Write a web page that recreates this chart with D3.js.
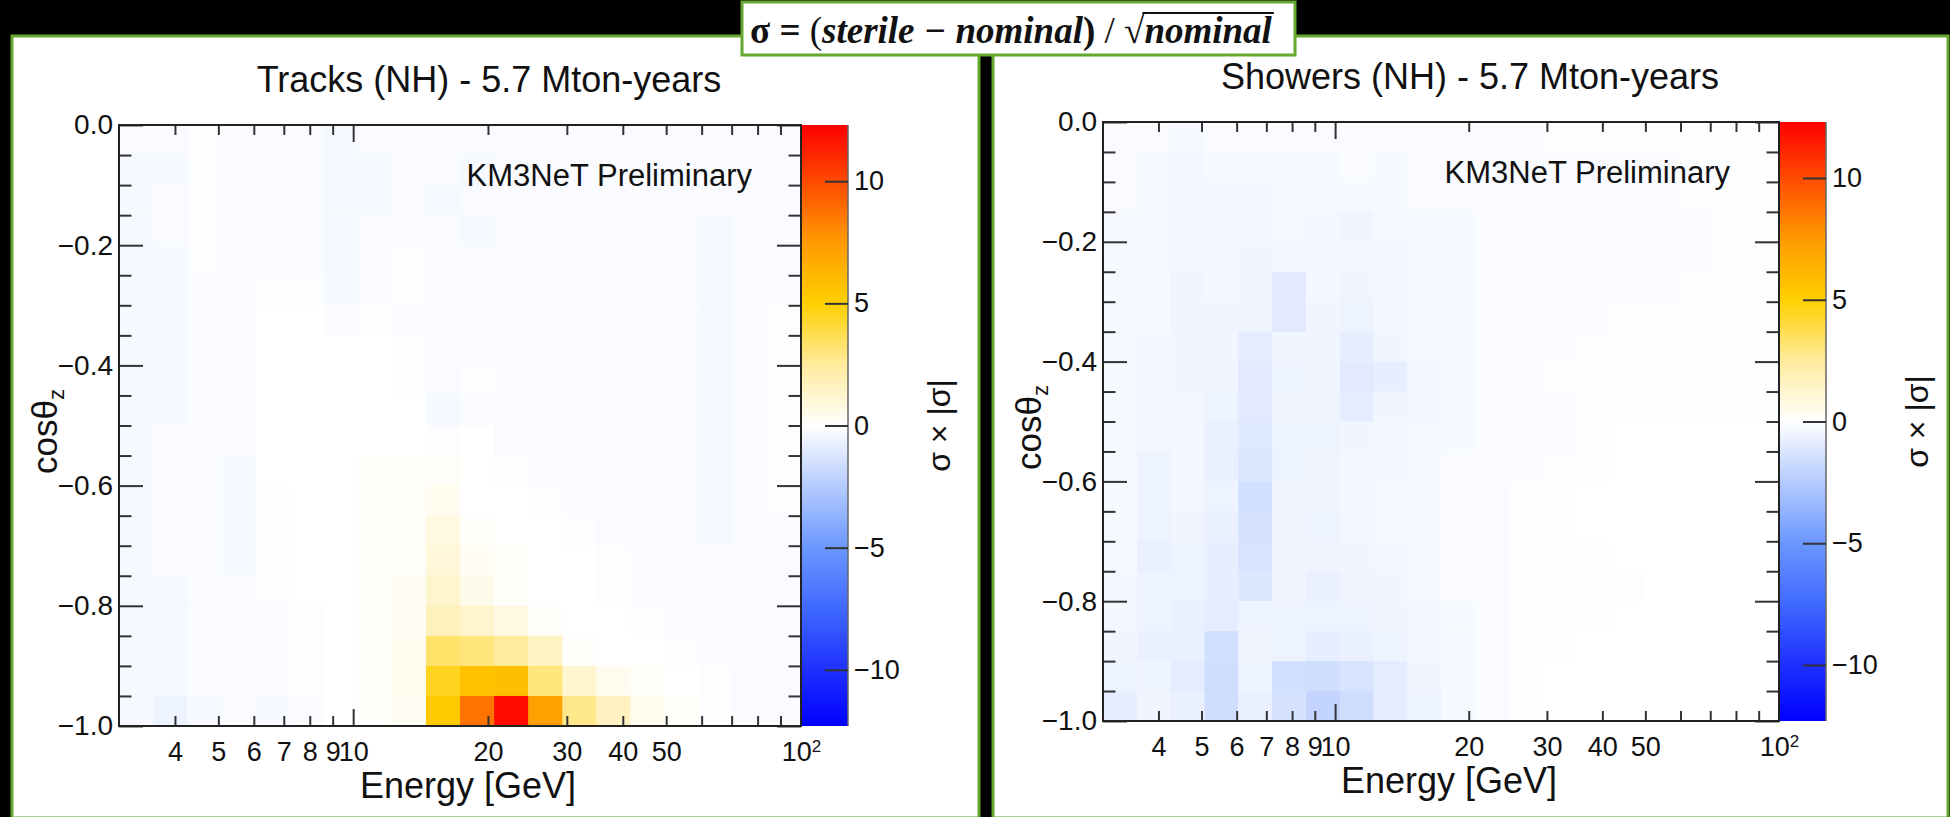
<!DOCTYPE html>
<html>
<head>
<meta charset="utf-8">
<script src="https://cdn.jsdelivr.net/npm/d3@7"></script>
<style>
  html, body { margin: 0; padding: 0; background: #000; }
  svg { display: block; }
  text { font-family: "Liberation Sans", Arial, Helvetica, sans-serif; }
</style>
</head>
<body>
<div id="chart"></div>
<script>
// energy bin edges [GeV], 20 log bins from 3 to 100
var energyEdges = [3.00, 3.58, 4.26, 5.08, 6.05, 7.21, 8.60, 10.24, 12.20, 14.54, 17.32,
                   20.64, 24.59, 29.31, 34.92, 41.62, 49.60, 59.10, 70.43, 83.93, 100];
// cos(theta_z) bin edges
var cosEdges = [-1.00, -0.95, -0.90, -0.85, -0.80, -0.75, -0.70, -0.65, -0.60, -0.55, -0.50,
                -0.45, -0.40, -0.35, -0.30, -0.25, -0.20, -0.15, -0.10, -0.05, 0.00];

var energyMinorTicks = [4, 5, 6, 7, 8, 9, 20, 30, 40, 50, 60, 70, 80, 90];
var energyMajorTicks = [10, 100];
var energyTickLabels = [4, 5, 6, 7, 8, 9, 10, 20, 30, 40, 50, 100];
var cosMajorTicks = [0, -0.2, -0.4, -0.6, -0.8, -1.0];
var cosMinorTicks = [-0.05, -0.1, -0.15, -0.25, -0.3, -0.35, -0.45, -0.5, -0.55,
                     -0.65, -0.7, -0.75, -0.85, -0.9, -0.95];
var colorTicks = [-10, -5, 0, 5, 10];
var colorStops = [-12.3, -10, -7.5, -5, -2.5, 0, 2.5, 5, 7.5, 10, 12.3];
var colorRange = ["#0000ff", "#1e30ff", "#3f69ff", "#6b97ff", "#b4cbff", "#ffffff",
                  "#ffeb9c", "#ffd000", "#ff9a00", "#ff4a00", "#ff0000"];

// sigma x |sigma|, rows from cos = 0 (top) down to cos = -1 (bottom), columns low -> high energy
var tracksSigma = [
  [-0.2,-0.2,-0.1,-0.2,-0.2,-0.2,-0.3,-0.2,-0.2,-0.2,-0.2,-0.2,-0.2,-0.2,-0.2,-0.2,-0.2,-0.2,-0.2,-0.2],
  [-0.3,-0.3,-0.1,-0.2,-0.2,-0.2,-0.3,-0.3,-0.2,-0.2,-0.3,-0.2,-0.2,-0.2,-0.2,-0.2,-0.2,-0.2,-0.2,-0.2],
  [-0.3,-0.2,-0.1,-0.2,-0.2,-0.2,-0.3,-0.3,-0.2,-0.3,-0.2,-0.2,-0.2,-0.2,-0.2,-0.2,-0.2,-0.2,-0.2,-0.2],
  [-0.3,-0.2,-0.1,-0.2,-0.2,-0.2,-0.3,-0.2,-0.2,-0.2,-0.3,-0.2,-0.2,-0.2,-0.2,-0.2,-0.2,-0.3,-0.2,-0.2],
  [-0.3,-0.3,-0.1,-0.2,-0.2,-0.2,-0.3,-0.2,-0.1,-0.2,-0.2,-0.2,-0.2,-0.2,-0.2,-0.2,-0.2,-0.3,-0.2,-0.2],
  [-0.3,-0.3,-0.2,-0.2,-0.1,-0.1,-0.3,-0.2,-0.1,-0.2,-0.2,-0.2,-0.2,-0.2,-0.2,-0.2,-0.2,-0.3,-0.2,-0.2],
  [-0.3,-0.3,-0.2,-0.2, 0.0, 0.0,-0.2,-0.1,-0.2,-0.2,-0.2,-0.2,-0.2,-0.2,-0.2,-0.2,-0.2,-0.3,-0.2,-0.1],
  [-0.3,-0.3,-0.2,-0.2, 0.0, 0.0, 0.0, 0.0,-0.1,-0.2,-0.2,-0.2,-0.2,-0.2,-0.2,-0.2,-0.2,-0.3,-0.2,-0.1],
  [-0.3,-0.3,-0.2,-0.2, 0.0, 0.0, 0.0, 0.0,-0.1,-0.2,-0.1,-0.2,-0.2,-0.2,-0.2,-0.2,-0.2,-0.3,-0.2,-0.1],
  [-0.3,-0.3,-0.2,-0.2, 0.0, 0.0, 0.0, 0.0, 0.0,-0.3,-0.2,-0.2,-0.2,-0.2,-0.2,-0.2,-0.2,-0.3,-0.2,-0.1],
  [-0.3,-0.2,-0.2,-0.2, 0.0, 0.0, 0.0, 0.0, 0.0,-0.1, 0.0,-0.2,-0.2,-0.2,-0.2,-0.2,-0.2,-0.3,-0.2,-0.1],
  [-0.3,-0.2,-0.2,-0.3, 0.0, 0.0, 0.0, 0.1, 0.1, 0.2, 0.0,-0.1,-0.2,-0.2,-0.2,-0.2,-0.2,-0.3,-0.2,-0.1],
  [-0.3,-0.2,-0.2,-0.3,-0.1, 0.0, 0.0, 0.1, 0.2, 0.4, 0.0, 0.0,-0.1,-0.2,-0.2,-0.2,-0.2,-0.3,-0.2,-0.1],
  [-0.3,-0.2,-0.2,-0.3,-0.1, 0.0, 0.0, 0.1, 0.2, 0.7, 0.1, 0.0, 0.0,-0.1,-0.2,-0.2,-0.2,-0.3,-0.2,-0.2],
  [-0.3,-0.2,-0.2,-0.3,-0.1, 0.0, 0.0, 0.1, 0.2, 1.0, 0.3, 0.1, 0.0, 0.0,-0.1,-0.2,-0.2,-0.2,-0.2,-0.2],
  [-0.3,-0.3,-0.2,-0.2,-0.1, 0.0, 0.0, 0.1, 0.3, 1.3, 0.5, 0.1, 0.0, 0.0,-0.1,-0.2,-0.2,-0.2,-0.2,-0.2],
  [-0.3,-0.3,-0.2,-0.2,-0.2,-0.1, 0.0, 0.1, 0.3, 1.7, 1.3, 0.7, 0.2, 0.0, 0.0,-0.1,-0.2,-0.2,-0.2,-0.2],
  [-0.3,-0.3,-0.2,-0.2,-0.2,-0.1, 0.0, 0.1, 0.4, 3.3, 3.0, 2.5, 1.5, 0.1, 0.0, 0.0,-0.1,-0.2,-0.2,-0.2],
  [-0.3,-0.3,-0.2,-0.2,-0.2,-0.1, 0.0, 0.1, 0.4, 4.5, 5.7, 5.8, 3.0, 1.2, 0.4, 0.1, 0.0,-0.1,-0.2,-0.2],
  [-0.3,-0.6,-0.3,-0.2,-0.3,-0.2, 0.0, 0.1, 0.3, 5.3, 8.7,12.0, 7.2, 2.8, 1.6, 0.4,0.15,-0.1,-0.2,-0.2]
];

var showersSigma = [
  [-0.2,-0.2,-0.3,-0.2,-0.2,-0.2,-0.2,-0.2,-0.2,-0.2,-0.2,-0.2,-0.2,-0.1,-0.1,-0.1,-0.1,-0.1,-0.1,-0.1],
  [-0.2,-0.3,-0.4,-0.3,-0.3,-0.3,-0.3,-0.2,-0.3,-0.2,-0.2,-0.2,-0.2,-0.2,-0.2,-0.2,-0.2,-0.1,-0.1,-0.1],
  [-0.2,-0.3,-0.4,-0.4,-0.4,-0.3,-0.3,-0.3,-0.3,-0.2,-0.2,-0.2,-0.2,-0.2,-0.2,-0.2,-0.2,-0.1,-0.1,-0.1],
  [-0.3,-0.3,-0.4,-0.4,-0.4,-0.3,-0.4,-0.5,-0.3,-0.3,-0.3,-0.2,-0.2,-0.2,-0.2,-0.2,-0.2,-0.2,-0.1,-0.1],
  [-0.3,-0.3,-0.4,-0.4,-0.5,-0.4,-0.4,-0.4,-0.4,-0.3,-0.3,-0.2,-0.2,-0.2,-0.2,-0.2,-0.2,-0.2,-0.1,-0.1],
  [-0.3,-0.3,-0.5,-0.4,-0.5,-1.0,-0.4,-0.5,-0.4,-0.3,-0.3,-0.2,-0.2,-0.2,-0.2,-0.2,-0.2,-0.1,-0.1,-0.1],
  [-0.3,-0.3,-0.5,-0.5,-0.5,-1.0,-0.5,-0.6,-0.4,-0.3,-0.3,-0.2,-0.2,-0.2,-0.2,-0.1,-0.1,-0.1,-0.1,-0.1],
  [-0.3,-0.4,-0.5,-0.5,-0.9,-0.5,-0.5,-0.8,-0.5,-0.3,-0.3,-0.2,-0.2,-0.2,-0.1,-0.1,-0.1,-0.1,-0.1,-0.1],
  [-0.3,-0.4,-0.5,-0.5,-1.0,-0.6,-0.5,-1.0,-0.8,-0.4,-0.3,-0.2,-0.2,-0.1,-0.1,-0.1,-0.1,-0.1,-0.1,-0.1],
  [-0.3,-0.4,-0.4,-0.6,-1.0,-0.5,-0.5,-0.9,-0.5,-0.4,-0.3,-0.2,-0.2,-0.2,-0.1,-0.1,-0.1,-0.1,-0.1,-0.1],
  [-0.3,-0.4,-0.4,-0.7,-1.1,-0.6,-0.6,-0.5,-0.4,-0.3,-0.3,-0.2,-0.2,-0.2,-0.1, 0.0, 0.0, 0.0, 0.0, 0.0],
  [-0.3,-0.6,-0.4,-0.7,-1.2,-0.6,-0.5,-0.4,-0.4,-0.3,-0.2,-0.2,-0.2,-0.1,-0.1, 0.0, 0.0, 0.0, 0.0, 0.0],
  [-0.3,-0.6,-0.4,-0.6,-1.5,-0.5,-0.5,-0.4,-0.3,-0.3,-0.2,-0.2,-0.1,-0.1, 0.0, 0.0, 0.0, 0.0, 0.0, 0.0],
  [-0.3,-0.6,-0.5,-0.7,-1.4,-0.5,-0.6,-0.4,-0.3,-0.3,-0.2,-0.2,-0.1,-0.1, 0.0, 0.0, 0.0, 0.0, 0.0, 0.0],
  [-0.3,-0.7,-0.6,-0.8,-1.3,-0.5,-0.5,-0.5,-0.4,-0.3,-0.2,-0.2,-0.1,-0.1,-0.1, 0.0, 0.0, 0.0, 0.0, 0.0],
  [-0.4,-0.6,-0.6,-0.8,-1.2,-0.5,-0.7,-0.5,-0.5,-0.3,-0.2,-0.2,-0.1,-0.1,-0.1,-0.1, 0.0, 0.0, 0.0, 0.0],
  [-0.4,-0.6,-0.7,-0.9,-0.6,-0.6,-0.6,-0.6,-0.5,-0.4,-0.3,-0.2,-0.1,-0.1,-0.1, 0.0, 0.0, 0.0, 0.0, 0.0],
  [-0.5,-0.7,-0.7,-1.5,-0.5,-0.6,-0.8,-0.7,-0.6,-0.4,-0.3,-0.2,-0.1,-0.1, 0.0, 0.0, 0.0, 0.0, 0.0, 0.0],
  [-0.6,-0.6,-0.9,-1.6,-0.6,-1.5,-1.6,-1.3,-0.9,-0.5,-0.3,-0.2,-0.1, 0.0, 0.0, 0.0, 0.0, 0.0, 0.0, 0.0],
  [-0.8,-0.5,-0.7,-1.6,-0.7,-1.4,-2.0,-1.6,-0.9,-0.6,-0.3,-0.2,-0.1, 0.0, 0.0, 0.0, 0.0, 0.0, 0.0, 0.0]
];

var W = 1950, H = 817;
var green = "#64a830";
var ink = "#111";

var svg = d3.select("#chart").append("svg")
  .attr("width", W)
  .attr("height", H);

svg.append("rect").attr("width", W).attr("height", H).attr("fill", "#000");

var defs = svg.append("defs");
var grad = defs.append("linearGradient")
  .attr("id", "zscale")
  .attr("x1", 0).attr("y1", 1).attr("x2", 0).attr("y2", 0);
grad.selectAll("stop")
  .data(colorStops)
  .enter().append("stop")
  .attr("offset", (d) => (d - colorStops[0]) / (colorStops[colorStops.length - 1] - colorStops[0]))
  .attr("stop-color", (d, i) => colorRange[i]);

var color = d3.scaleLinear().domain(colorStops).range(colorRange).clamp(true);

function tickStyle(sel) {
  sel.select(".domain").remove();
  sel.selectAll(".tick line").attr("stroke", "#333").attr("stroke-width", 2);
  sel.attr("font-family", null).attr("font-size", null).attr("color", ink);
}

function drawPanel(p) {
  var x = d3.scaleLog().domain([energyEdges[0], energyEdges[energyEdges.length - 1]]).range([p.x0, p.x1]),
      y = d3.scaleLinear().domain([cosEdges[0], cosEdges[cosEdges.length - 1]]).range([p.y1, p.y0]),
      cy = d3.scaleLinear().domain([colorStops[0], colorStops[colorStops.length - 1]]).range([p.y1, p.y0]);

  /* white pad with green frame */
  svg.append("rect")
    .attr("x", p.px).attr("y", p.py)
    .attr("width", p.pw).attr("height", p.ph)
    .attr("fill", "#fff")
    .attr("stroke", green).attr("stroke-width", 3);

  var g = svg.append("g");

  /* the 2D histogram */
  var nRows = p.data.length;
  var cells = [];
  p.data.forEach((row, i) => row.forEach((v, k) => cells.push({k: k, r: nRows - 1 - i, v: v})));

  g.selectAll("rect.cell")
    .data(cells)
    .enter().append("rect")
    .attr("class", "cell")
    .attr("x", (d) => x(energyEdges[d.k]))
    .attr("y", (d) => y(cosEdges[d.r + 1]))
    .attr("width", (d) => x(energyEdges[d.k + 1]) - x(energyEdges[d.k]) + 0.6)
    .attr("height", (d) => y(cosEdges[d.r]) - y(cosEdges[d.r + 1]) + 0.6)
    .attr("fill", (d) => color(d.v));

  /* ticks, all pointing inward */
  g.append("g").attr("transform", "translate(0," + p.y1 + ")")
    .call(d3.axisBottom(x).tickValues(energyMinorTicks).tickSize(-10).tickFormat(""))
    .call(tickStyle);
  g.append("g").attr("transform", "translate(0," + p.y1 + ")")
    .call(d3.axisBottom(x).tickValues(energyMajorTicks).tickSize(-17).tickFormat(""))
    .call(tickStyle);
  g.append("g").attr("transform", "translate(0," + p.y0 + ")")
    .call(d3.axisTop(x).tickValues(energyMinorTicks).tickSize(-10).tickFormat(""))
    .call(tickStyle);
  g.append("g").attr("transform", "translate(0," + p.y0 + ")")
    .call(d3.axisTop(x).tickValues(energyMajorTicks).tickSize(-17).tickFormat(""))
    .call(tickStyle);

  g.append("g").attr("transform", "translate(" + p.x0 + ",0)")
    .call(d3.axisLeft(y).tickValues(cosMinorTicks).tickSize(-12.5).tickFormat(""))
    .call(tickStyle);
  g.append("g").attr("transform", "translate(" + p.x1 + ",0)")
    .call(d3.axisRight(y).tickValues(cosMinorTicks).tickSize(-12.5).tickFormat(""))
    .call(tickStyle);
  g.append("g").attr("transform", "translate(" + p.x1 + ",0)")
    .call(d3.axisRight(y).tickValues(cosMajorTicks).tickSize(-24).tickFormat(""))
    .call(tickStyle);

  var yAxis = g.append("g").attr("transform", "translate(" + p.x0 + ",0)")
    .call(d3.axisLeft(y).tickValues(cosMajorTicks).tickSize(-24).tickPadding(6).tickFormat(d3.format(".1f")))
    .call(tickStyle);
  yAxis.selectAll("text").style("font-size", "28px");

  /* energy labels */
  var xLab = g.append("g").attr("transform", "translate(0," + p.y1 + ")")
    .call(d3.axisBottom(x).tickValues(energyTickLabels).tickSize(0).tickPadding(16)
      .tickFormat((d) => d === 100 ? "10" : String(d)))
    .call(tickStyle);
  xLab.selectAll("text").style("font-size", "27px");
  xLab.selectAll(".tick text").filter((d) => d === 100)
    .append("tspan").attr("dy", "-0.55em").style("font-size", "17px").text("2");

  /* frame */
  g.append("rect")
    .attr("x", p.x0).attr("y", p.y0)
    .attr("width", p.x1 - p.x0).attr("height", p.y1 - p.y0)
    .attr("fill", "none").attr("stroke", "#222").attr("stroke-width", 2);

  /* colour bar */
  var cbx = p.x1 + 1, cbw = 46;
  g.append("rect")
    .attr("x", cbx).attr("y", p.y0)
    .attr("width", cbw).attr("height", p.y1 - p.y0)
    .attr("fill", "url(#zscale)");
  g.append("line")
    .attr("x1", cbx + cbw).attr("x2", cbx + cbw)
    .attr("y1", p.y0).attr("y2", p.y1)
    .attr("stroke", "#666").attr("stroke-width", 1.5);
  var cAxis = g.append("g").attr("transform", "translate(" + (cbx + cbw) + ",0)")
    .call(d3.axisRight(cy).tickValues(colorTicks).tickSize(-23).tickPadding(6).tickFormat(d3.format("d")))
    .call(tickStyle);
  cAxis.selectAll("text").style("font-size", "27px");

  g.append("text")
    .attr("transform", "translate(" + (cbx + cbw + 102) + "," + cy(0) + ") rotate(-90)")
    .attr("text-anchor", "middle")
    .attr("fill", ink)
    .style("font-size", "32px")
    .text("σ × |σ|");

  /* titles */
  g.append("text")
    .attr("x", (p.x0 + p.x1) / 2 + 29).attr("y", p.y0 - 33)
    .attr("text-anchor", "middle")
    .attr("fill", ink)
    .style("font-size", "36px")
    .text(p.title);

  g.append("text")
    .attr("x", (p.x0 + p.x1) / 2 + 8).attr("y", p.y1 + 72)
    .attr("text-anchor", "middle")
    .attr("fill", ink)
    .style("font-size", "36px")
    .text("Energy [GeV]");

  var yt = g.append("text")
    .attr("transform", "translate(" + (p.x0 - 62) + "," + ((p.y0 + p.y1) / 2 + 6) + ") rotate(-90)")
    .attr("text-anchor", "middle")
    .attr("fill", ink)
    .style("font-size", "35px");
  yt.append("tspan").text("cosθ");
  yt.append("tspan").attr("dy", "0.3em").style("font-size", "22px").text("z");

  g.append("text")
    .attr("x", p.x1 - 49).attr("y", p.y0 + 61)
    .attr("text-anchor", "end")
    .attr("fill", ink)
    .style("font-size", "31px")
    .text("KM3NeT Preliminary");
}

drawPanel({
  px: 12, py: 36, pw: 967, ph: 782,
  x0: 119, x1: 801, y0: 125, y1: 726,
  data: tracksSigma,
  title: "Tracks (NH) - 5.7 Mton-years"
});

drawPanel({
  px: 993, py: 36, pw: 955, ph: 782,
  x0: 1103, x1: 1779, y0: 122, y1: 721,
  data: showersSigma,
  title: "Showers (NH) - 5.7 Mton-years"
});

/* formula box */
svg.append("rect")
  .attr("x", 742).attr("y", 2)
  .attr("width", 553).attr("height", 53)
  .attr("fill", "#fff")
  .attr("stroke", green).attr("stroke-width", 3);

var fx = 750, fy = 43;
var fFont = "'Liberation Serif', 'Times New Roman', serif";
var f1 = svg.append("text")
  .attr("x", fx).attr("y", fy)
  .attr("fill", ink)
  .style("font-family", fFont)
  .style("font-size", "37px")
  .style("font-weight", "bold");
f1.append("tspan").text("σ = ");
f1.append("tspan").style("font-weight", "normal").text("(");
f1.append("tspan").style("font-style", "italic").text("sterile − nominal");
f1.append("tspan").text(")");
f1.append("tspan").style("font-weight", "normal").text(" / √");
var len1 = f1.node().getComputedTextLength();
var f2 = svg.append("text")
  .attr("x", fx + len1).attr("y", fy)
  .attr("fill", ink)
  .style("font-family", fFont)
  .style("font-size", "37px")
  .style("font-weight", "bold")
  .style("font-style", "italic")
  .text("nominal");
var len2 = f2.node().getComputedTextLength();
svg.append("line")
  .attr("x1", fx + len1 - 2).attr("x2", fx + len1 + len2 + 2)
  .attr("y1", fy - 30).attr("y2", fy - 30)
  .attr("stroke", ink).attr("stroke-width", 1.8);
</script>
</body>
</html>
